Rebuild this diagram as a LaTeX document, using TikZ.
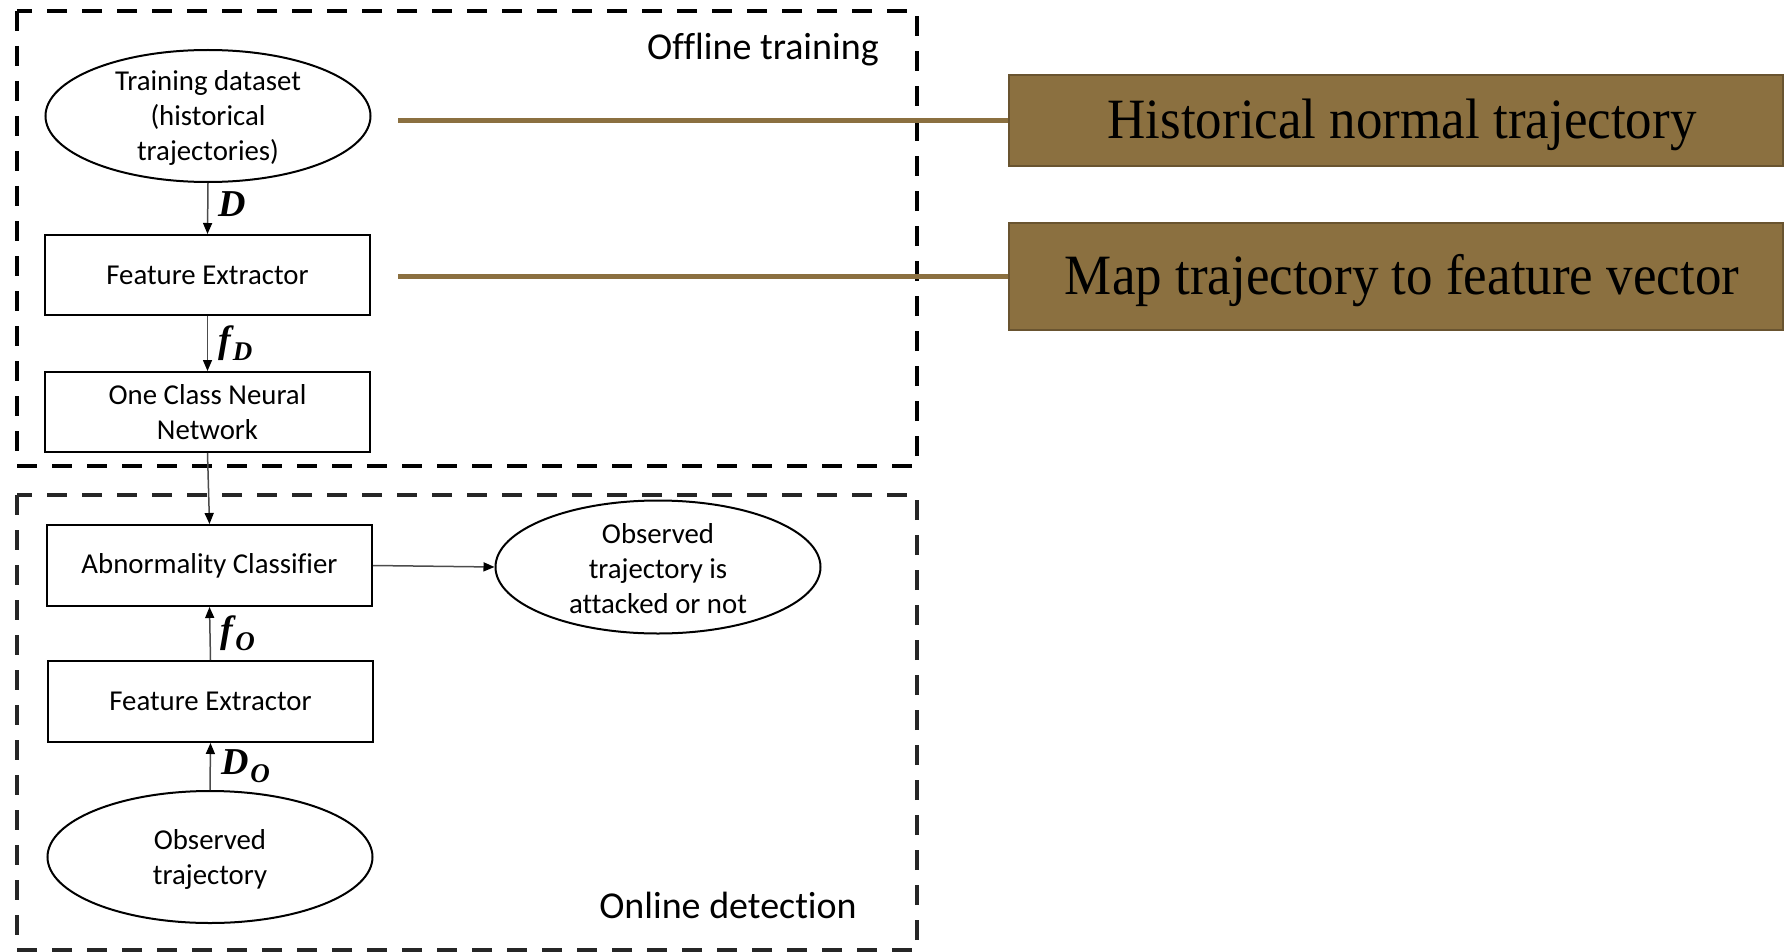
\documentclass[tikz,border=0pt]{standalone}
\usepackage{fontspec}
\setmainfont{Carlito}[Ligatures=NoCommon]
\newfontfamily\tnr{Liberation Serif}
\usetikzlibrary{shapes.geometric,arrows.meta}
\definecolor{brn}{RGB}{139,112,64}
\definecolor{brnd}{RGB}{105,84,48}
\newcommand{\mlab}[2]{{\tnr\bfseries\itshape\fontsize{38}{38}\selectfont #1\kern2pt\raisebox{-8pt}{\fontsize{27}{27}\selectfont #2}}}
\begin{document}
\begin{tikzpicture}[x=1pt,y=-1pt,
  box/.style={draw, line width=2, minimum width=325, minimum height=80, inner sep=0, font=\fontsize{28.8}{35}\selectfont, align=center},
  oval/.style={draw, ellipse, line width=2, minimum width=325, minimum height=132, inner sep=0},
  txt/.style={font=\fontsize{28.8}{35}\selectfont, align=center, inner sep=0, yshift=-2},
  ttl/.style={font=\fontsize{38}{44}\selectfont, inner sep=0},
  conn/.style={line width=1.5, draw=black!70, -{Triangle[length=11pt,width=9pt,color=black]}},
  lbl/.style={right, inner sep=0, xshift=10},
  dbox/.style={line width=4.5, dash pattern=on 20 off 15},
  bbox/.style={draw=brnd, fill=brn, line width=2, inner sep=0},
  btxt/.style={inner sep=0, font=\tnr\fontsize{57}{60}\selectfont},
  bline/.style={draw=brn, line width=5}]
\useasboundingbox (0,0) rectangle (1784,952);

% dashed frames
\draw[dbox] (17,11) rectangle (917,466);
\draw[dbox, draw=black!85] (17,495) rectangle (917,950);
\node[ttl] (offt) at (763,50) {Offline training};
\node[ttl] (onld) at (728,905) {Online detection};

% offline part
\node[oval] (tds) at (208,116) {};
\node[txt] (tdst) at (tds) {Training dataset\\(historical\\trajectories)};
\node[box] (fe1) at (207.5,275) {Feature Extractor};
\node[box] (ocnn) at (207.5,412) {One Class Neural\\Network};

% online part
\node[box, minimum height=81] (abn) at (209.5,565.5) {Abnormality Classifier};
\node[oval, minimum height=133] (res) at (658,567) {};
\node[txt] (rest) at (res) {Observed\\trajectory is\\attacked or not};
\node[box, minimum height=81] (fe2) at (210.5,701.5) {Feature Extractor};
\node[oval] (obs) at (210,857) {};
\node[txt] (obst) at (obs) {Observed\\trajectory};

% connectors
\draw[conn] (tds.south) -- node[lbl] {\mlab{D}{}} (fe1.north);
\draw[conn] (fe1.south) -- node[lbl] {\mlab{f}{D}} (ocnn.north);
\draw[conn] (ocnn.south) -- (abn.north);
\draw[conn] (abn.east) -- (res.west);
\draw[conn] (fe2.north) -- node[lbl] {\mlab{f}{O}} (abn.south);
\draw[conn] (obs.north) -- node[lbl] {\mlab{D}{O}} (fe2.south);

% brown annotation boxes
\node[bbox, minimum width=774, minimum height=91] (hb) at (1396,120.5) {};
\node[btxt] (hbt) at (1402,125) {\scalebox{0.93}[1]{Historical normal trajectory}};
\node[bbox, minimum width=774, minimum height=107] (mb) at (1396,276.5) {};
\node[btxt] (mbt) at (1402,281) {\scalebox{0.93}[1]{Map trajectory to feature vector}};
\coordinate (h0) at (398,120.5);
\coordinate (m0) at (398,276.5);
\draw[bline] (h0) -- (hb.west);
\draw[bline] (m0) -- (mb.west);
\end{tikzpicture}
\end{document}
